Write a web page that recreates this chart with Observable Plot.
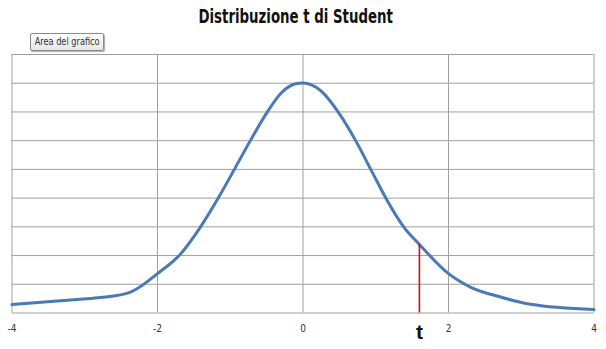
<!DOCTYPE html>
<html>
<head>
<meta charset="utf-8">
<script src="https://cdn.jsdelivr.net/npm/d3@7"></script>
<script src="https://cdn.jsdelivr.net/npm/@observablehq/plot@0.6"></script>
<style>
  html, body { margin: 0; padding: 0; background: #fff; }
  #wrap { position: relative; width: 606px; height: 349px; overflow: hidden; }
  #title { position: absolute; left: -7px; top: 5px; width: 606px; text-align: center;
    font-family: "DejaVu Sans Condensed", "Liberation Sans Narrow", sans-serif;
    font-weight: bold; font-size: 19px; line-height: 23px; color: #111; }
  #title span { display: inline-block; transform: scaleX(0.78); transform-origin: 50% 50%; white-space: nowrap; }
  #tip { position: absolute; left: 30px; top: 33px; width: 72px; height: 16px;
    border: 1px solid #8a8a8a; border-radius: 2px; box-shadow: 1px 1px 1px #aaa;
    background: linear-gradient(#ffffff, #e6e6e6); overflow: hidden;
    font-family: "DejaVu Sans Condensed", sans-serif; font-size: 11px;
    color: #333; line-height: 16px; text-align: center; white-space: nowrap; }
  #tip span { display: inline-block; transform: scaleX(0.83); transform-origin: 50% 50%; margin: 0 -10px; }
  #chart { position: absolute; left: 0; top: 0; }
</style>
</head>
<body>
<div id="wrap">
  <div id="chart"></div>
  <div id="title"><span>Distribuzione t di Student</span></div>
  <div id="tip"><span>Area del grafico</span></div>
</div>
<script>
// Curve points
const xs = [-4, -3.06, -2.78, -2.37, -2, -1.68, -1.41, -1.157, -0.951, -0.722, -0.492, -0.309, -0.103, 0, 0.24, 0.515, 0.722, 0.951, 1.157, 1.386, 1.59, 2.0, 2.30, 2.715, 3.13, 4];
const ys = [0.0146, 0.0238, 0.0268, 0.0365, 0.0685, 0.1033, 0.1496, 0.2018, 0.2483, 0.3005, 0.3497, 0.3817, 0.399, 0.4005, 0.3874, 0.344, 0.3005, 0.2453, 0.196, 0.1496, 0.1207, 0.0685, 0.0452, 0.0278, 0.0151, 0.0059];
const xTicks = [-4, -2, 0, 2, 4];
const yGrid = [0, 0.05, 0.10, 0.15, 0.20, 0.25, 0.30, 0.35, 0.40, 0.45];
const tValue = 1.6;
const tDensity = 0.1195;
const tLabel = "t";

const curve = xs.map((x, i) => ({x, y: ys[i]}));

const plot = Plot.plot({
  width: 606,
  height: 349,
  marginLeft: 11.5,
  marginRight: 12.5,
  marginTop: 54,
  marginBottom: 36.5,
  style: {fontFamily: '"DejaVu Sans Condensed", sans-serif', fontSize: "10px", color: "#333", background: "#fff"},
  x: {domain: [-4, 4], ticks: xTicks, tickFormat: d => String(d), tickSize: 0, tickPadding: 12, label: null},
  y: {domain: [0, 0.45], axis: null},
  marks: [
    Plot.ruleY(yGrid, {stroke: "#a0a0a0", strokeWidth: 1}),
    Plot.ruleX(xTicks, {stroke: "#a0a0a0", strokeWidth: 1}),
    Plot.line(curve, {x: "x", y: "y", stroke: "#4a7ab5", strokeWidth: 3, curve: "monotone-x"}),
    Plot.ruleX([tValue], {y1: 0, y2: tDensity, stroke: "#d01010", strokeWidth: 1.6}),
    Plot.text([tLabel], {x: tValue, frameAnchor: "bottom", dy: 26, fontSize: 21, fontWeight: "bold", fill: "#111", fontFamily: '"Liberation Sans", Arial, sans-serif'})
  ]
});
document.getElementById("chart").appendChild(plot);
</script>
</body>
</html>
